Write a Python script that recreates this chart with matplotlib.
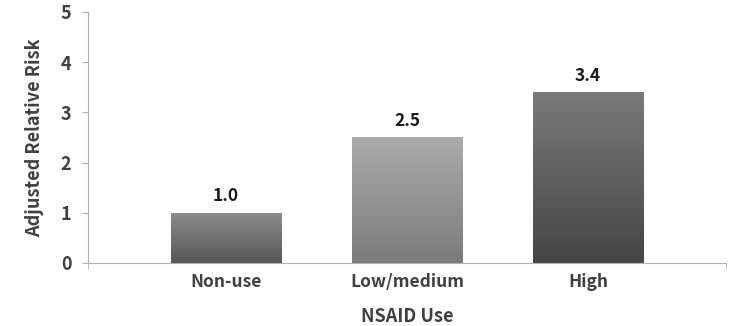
import numpy as np
import matplotlib.pyplot as plt
from matplotlib.colors import LinearSegmentedColormap

plt.rcParams['font.family'] = ['Noto Sans CJK JP', 'DejaVu Sans']

categories = ['Non-use', 'Low/medium', 'High']
risk = [1.0, 2.5, 3.4]
labels = ['1.0', '2.5', '3.4']
# top / bottom shade of each bar's gradient
shades = [('#8c8c8c', '#575757'), ('#ababab', '#7b7b7b'), ('#7a7a7a', '#454545')]

fig = plt.figure(figsize=(7.32, 3.26), dpi=100)
ax = fig.add_axes([0.1202, 0.1933, 0.8716, 0.7699])

x = np.arange(len(categories))
bars = ax.bar(x, risk, width=0.61, color='none', edgecolor='none', zorder=2)
grad = np.linspace(1, 0, 256).reshape(-1, 1)
for b, (top, bot) in zip(bars, shades):
    cmap = LinearSegmentedColormap.from_list('g', [bot, top])
    x0, y0 = b.get_x(), b.get_y()
    im = ax.imshow(grad, cmap=cmap, aspect='auto', zorder=2,
                   extent=[x0, x0 + b.get_width(), y0, y0 + b.get_height()])
    im.set_clip_path(b)

for xi, v, t in zip(x, risk, labels):
    ax.text(xi, v + 0.15, t, ha='center', va='bottom', fontsize=12.5,
            fontweight='bold', color='#1a1a1a')

ax.set_xlim(-0.762, 2.762)
ax.set_ylim(0, 5)
ax.set_yticks(range(6))
ax.set_xticks(x)
ax.set_xticklabels(categories)
ax.set_xticks([-0.762, 2.762], minor=True)
ax.tick_params(axis='x', which='major', length=0, pad=7)
ax.tick_params(axis='x', which='minor', length=4, color='#b0b0b0')
ax.tick_params(axis='y', length=4, color='#b0b0b0', pad=8)
for lab in ax.get_xticklabels() + ax.get_yticklabels():
    lab.set_fontweight('bold')
    lab.set_color('#404040')
    lab.set_fontsize(12.5)
for lab in ax.get_yticklabels():
    lab.set_fontsize(13)

for s in ['top', 'right']:
    ax.spines[s].set_visible(False)
for s in ['left', 'bottom']:
    ax.spines[s].set_color('#b0b0b0')

ax.set_ylabel('Adjusted Relative Risk', fontsize=13, fontweight='bold',
              color='#404040', labelpad=12)
ax.set_xlabel('NSAID Use', fontsize=13, fontweight='bold', color='#404040',
              labelpad=12)

fig.savefig('out.png', dpi=100)
